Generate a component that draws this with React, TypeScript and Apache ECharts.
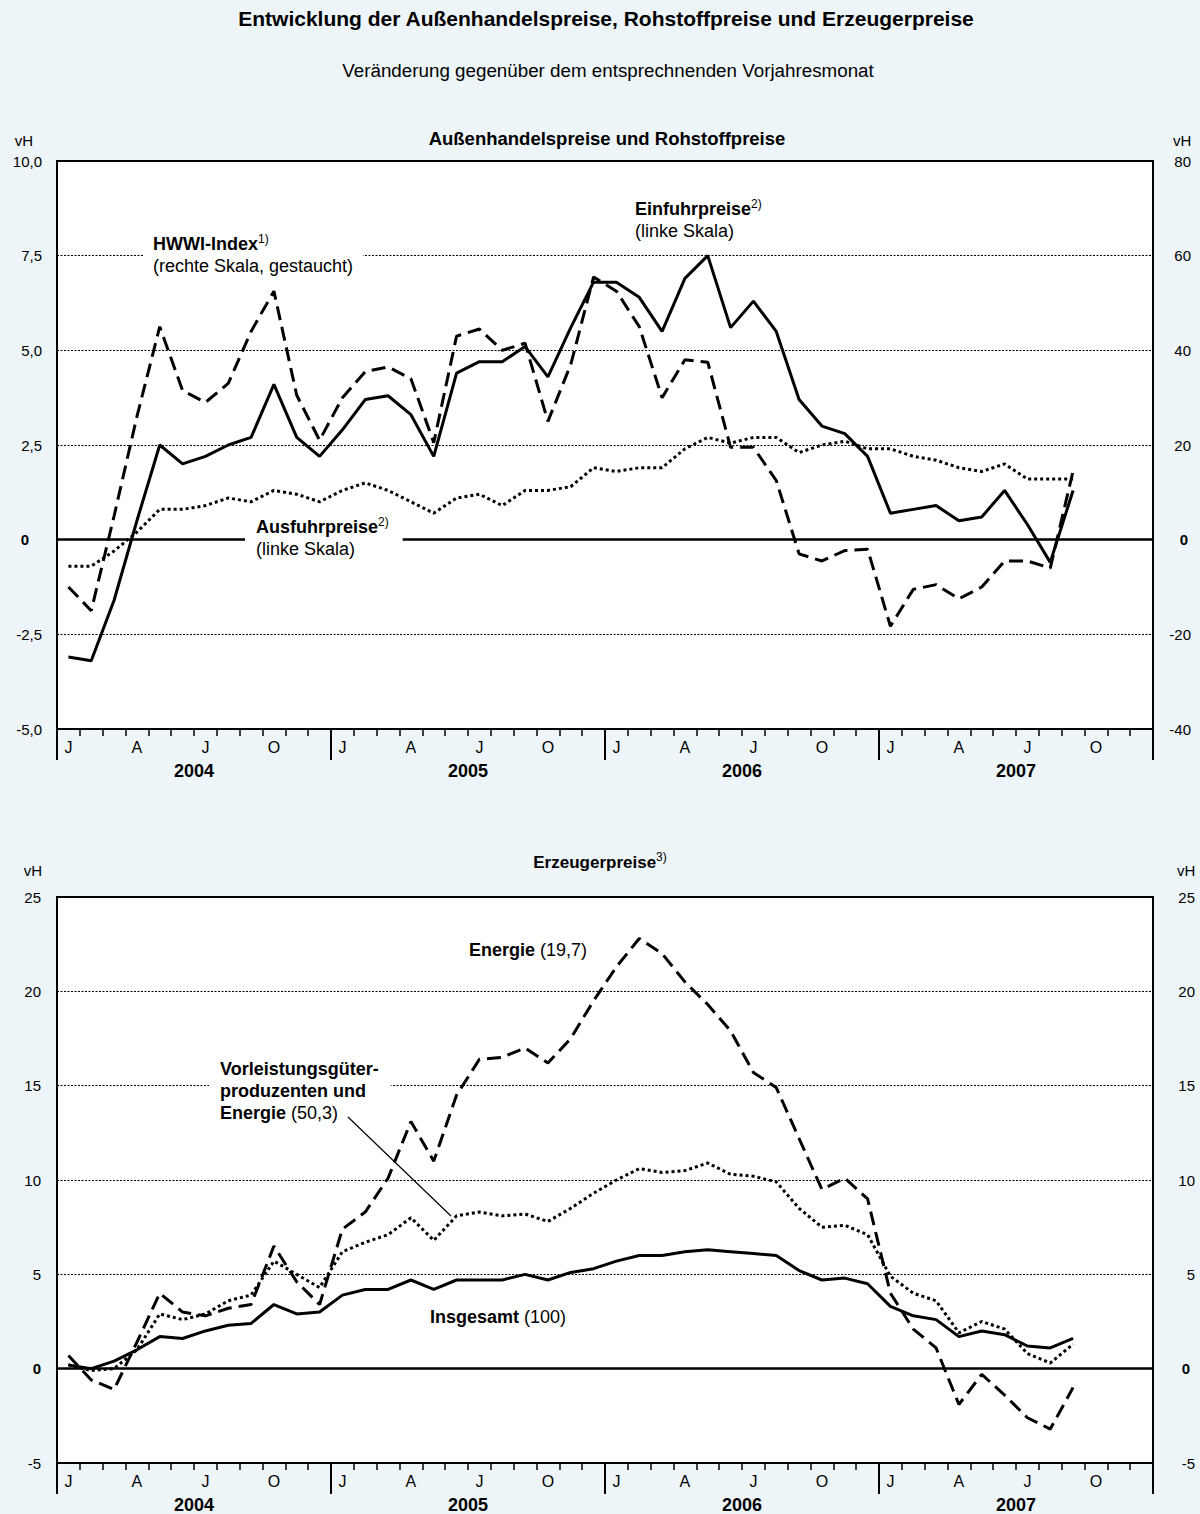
import React, { useEffect, useRef } from 'react';
import * as echarts from 'echarts';

// ---------- Data ----------
const years = ['2004', '2005', '2006', '2007'];
const monthInitials = ['J', 'F', 'M', 'A', 'M', 'J', 'J', 'A', 'S', 'O', 'N', 'D'];
const monthCategories = years.flatMap((y) => monthInitials.map((m, i) => `${m}|${y}-${i + 1}`));

// Top panel (Jan 2004 - Sep 2007), vH
const einfuhrpreise = [
  -3.1, -3.2, -1.6, 0.5, 2.5, 2.0, 2.2, 2.5, 2.7, 4.1, 2.7, 2.2,
  2.9, 3.7, 3.8, 3.3, 2.2, 4.4, 4.7, 4.7, 5.1, 4.3, 5.6, 6.8,
  6.8, 6.4, 5.5, 6.9, 7.5, 5.6, 6.3, 5.5, 3.7, 3.0, 2.8, 2.2,
  0.7, 0.8, 0.9, 0.5, 0.6, 1.3, 0.4, -0.6, 1.3,
];
const ausfuhrpreise = [
  -0.7, -0.7, -0.3, 0.2, 0.8, 0.8, 0.9, 1.1, 1.0, 1.3, 1.2, 1.0,
  1.3, 1.5, 1.3, 1.0, 0.7, 1.1, 1.2, 0.9, 1.3, 1.3, 1.4, 1.9,
  1.8, 1.9, 1.9, 2.4, 2.7, 2.55, 2.7, 2.7, 2.3, 2.5, 2.6, 2.4,
  2.4, 2.2, 2.1, 1.9, 1.8, 2.0, 1.6, 1.6, 1.6,
];
const hwwiIndex = [
  -10, -15, 5, 26, 45, 31.5, 29, 33, 44, 52.5, 30.5, 21,
  30, 35.5, 36.5, 34, 20.5, 43, 44.5, 40, 41.5, 25, 37, 55.5,
  52.5, 45, 30, 38, 37.5, 19.5, 19.5, 12.5, -3, -4.5, -2.3, -2,
  -18.3, -10.5, -9.5, -12.5, -10, -4.5, -4.5, -6, 14.5,
];

// Bottom panel, Erzeugerpreise, vH
const insgesamt = [
  0.2, 0.0, 0.4, 1.0, 1.7, 1.6, 2.0, 2.3, 2.4, 3.4, 2.9, 3.0,
  3.9, 4.2, 4.2, 4.7, 4.2, 4.7, 4.7, 4.7, 5.0, 4.7, 5.1, 5.3,
  5.7, 6.0, 6.0, 6.2, 6.3, 6.2, 6.1, 6.0, 5.2, 4.7, 4.8, 4.5,
  3.3, 2.8, 2.6, 1.7, 2.0, 1.8, 1.2, 1.1, 1.6,
];
const vorleistungEnergie = [
  0.2, -0.1, 0.0, 1.0, 2.9, 2.6, 2.9, 3.6, 3.9, 5.7, 5.0, 4.3,
  6.2, 6.7, 7.1, 8.0, 6.8, 8.1, 8.3, 8.1, 8.2, 7.8, 8.5, 9.3,
  10.0, 10.6, 10.4, 10.5, 10.9, 10.3, 10.2, 9.9, 8.5, 7.5, 7.6, 7.1,
  4.9, 4.0, 3.6, 1.9, 2.5, 2.1, 0.8, 0.3, 1.3,
];
const energie = [
  0.7, -0.6, -1.1, 1.4, 4.0, 3.0, 2.8, 3.2, 3.4, 6.5, 4.6, 3.4,
  7.4, 8.3, 10.1, 13.1, 11.0, 14.5, 16.4, 16.5, 17.0, 16.2, 17.5, 19.5,
  21.3, 22.8, 22.0, 20.5, 19.3, 17.9, 15.7, 14.9, 12.2, 9.5, 10.1, 9.0,
  4.0, 2.1, 1.1, -1.9, -0.3, -1.4, -2.6, -3.2, -1.0,
];

// Axis scales
const topLeftScale = { min: -5, max: 10, interval: 2.5 };
const topRightScale = { min: -40, max: 80, interval: 20 };
const bottomScale = { min: -5, max: 25, interval: 5 };

// ---------- Styling ----------
const FONT = '"Liberation Sans", Arial, Helvetica, sans-serif';
const BG = '#EDF5F9';
const dottedGrid = { show: true, lineStyle: { color: '#000', width: 1.2, type: [2, 1.5] as any } };
const DASH = [14, 7];
const DOT = [3, 3];

const monthAxis = (gridIndex: number) => ({
  type: 'category',
  gridIndex,
  data: monthCategories,
  boundaryGap: true,
  position: 'bottom',
  axisLine: { show: true, onZero: false, lineStyle: { color: '#000', width: 2 } },
  axisTick: { show: true, interval: 0, length: 7, lineStyle: { color: '#000', width: 1.5 } },
  axisLabel: {
    interval: (i: number) => i % 3 === 0,
    formatter: (v: string) => v.split('|')[0],
    margin: 10,
    fontSize: 16,
    color: '#000',
    fontFamily: FONT,
  },
  splitLine: { show: false },
});

const yearAxis = (gridIndex: number) => ({
  type: 'category',
  gridIndex,
  data: years,
  boundaryGap: true,
  position: 'bottom',
  axisLine: { show: false, onZero: false },
  axisTick: { show: true, interval: 0, length: 31, lineStyle: { color: '#000', width: 2 } },
  axisLabel: { margin: 33, fontSize: 18, fontWeight: 'bold', color: '#000', fontFamily: FONT },
  splitLine: { show: false },
});

const zeroRich = (padRight: number) => ({
  z: { fontSize: 15, fontWeight: 'bold', color: '#000', fontFamily: FONT, padding: [0, padRight, 0, 0] },
});

const zeroLine = {
  silent: true,
  symbol: ['none', 'none'],
  label: { show: false },
  lineStyle: { color: '#000', width: 2.5, type: 'solid' },
  data: [{ yAxis: 0 }],
};

const richBase = {
  b: { fontSize: 18, fontWeight: 'bold', fontFamily: FONT, fill: '#000', lineHeight: 22 },
  n: { fontSize: 18, fontWeight: 'normal', fontFamily: FONT, fill: '#000', lineHeight: 22 },
  s: { fontSize: 12, fontWeight: 'normal', fontFamily: FONT, fill: '#000', lineHeight: 22, verticalAlign: 'top' },
};

const textEl = (x: number, y: number, text: string, extra: any = {}) => ({
  type: 'text',
  x,
  y,
  z: 100,
  style: {
    text,
    fontFamily: FONT,
    fill: '#000',
    rich: richBase,
    ...extra,
  },
});

export default function App() {
  const ref = useRef<HTMLDivElement>(null);

  useEffect(() => {
    document.body.style.margin = '0';
    document.body.style.background = BG;
    if (!ref.current) return;
    const chart = echarts.init(ref.current, undefined, { renderer: 'svg' });

    const option: any = {
      animation: false,
      backgroundColor: BG,
      textStyle: { fontFamily: FONT, color: '#000' },
      grid: [
        { left: 57, top: 161, width: 1096, height: 568, show: true, backgroundColor: '#fff', borderColor: '#000', borderWidth: 2 },
        { left: 57, top: 897, width: 1096, height: 567, show: true, backgroundColor: '#fff', borderColor: '#000', borderWidth: 2 },
      ],
      xAxis: [monthAxis(0), yearAxis(0), monthAxis(1), yearAxis(1)],
      yAxis: [
        {
          type: 'value', gridIndex: 0, position: 'left', ...topLeftScale,
          axisLine: { show: false }, axisTick: { show: false },
          splitLine: dottedGrid,
          axisLabel: {
            margin: 15, fontSize: 15, color: '#000', fontFamily: FONT,
            formatter: (v: number) => (v === 0 ? '{z|0}' : v.toFixed(1).replace('.', ',')),
            rich: zeroRich(13),
          },
        },
        {
          type: 'value', gridIndex: 0, position: 'right', ...topRightScale,
          axisLine: { show: false }, axisTick: { show: false },
          splitLine: { show: false },
          axisLabel: {
            margin: 38, align: 'right', fontSize: 15, color: '#000', fontFamily: FONT,
            formatter: (v: number) => (v === 0 ? '{z|0}' : String(v)),
            rich: zeroRich(3),
          },
        },
        {
          type: 'value', gridIndex: 1, position: 'left', ...bottomScale,
          axisLine: { show: false }, axisTick: { show: false },
          splitLine: dottedGrid,
          axisLabel: {
            margin: 16, fontSize: 15, color: '#000', fontFamily: FONT,
            formatter: (v: number) => (v === 0 ? '{z|0}' : String(v)),
            rich: zeroRich(0),
          },
        },
        {
          type: 'value', gridIndex: 1, position: 'right', ...bottomScale,
          axisLine: { show: false }, axisTick: { show: false },
          splitLine: { show: false },
          axisLabel: {
            margin: 42, align: 'right', fontSize: 15, color: '#000', fontFamily: FONT,
            formatter: (v: number) => (v === 0 ? '{z|0}' : String(v)),
            rich: zeroRich(5),
          },
        },
      ],
      series: [
        {
          name: 'Einfuhrpreise', type: 'line', xAxisIndex: 0, yAxisIndex: 0, data: einfuhrpreise,
          symbol: 'none', lineStyle: { color: '#000', width: 3, type: 'solid' }, markLine: zeroLine, z: 4,
        },
        {
          name: 'Ausfuhrpreise', type: 'line', xAxisIndex: 0, yAxisIndex: 0, data: ausfuhrpreise,
          symbol: 'none', lineStyle: { color: '#000', width: 3, type: DOT, cap: 'butt' }, z: 3,
        },
        {
          name: 'HWWI-Index', type: 'line', xAxisIndex: 0, yAxisIndex: 1, data: hwwiIndex,
          symbol: 'none', lineStyle: { color: '#000', width: 3, type: DASH, cap: 'butt' }, z: 3,
        },
        {
          name: 'Insgesamt', type: 'line', xAxisIndex: 2, yAxisIndex: 2, data: insgesamt,
          symbol: 'none', lineStyle: { color: '#000', width: 3, type: 'solid' }, markLine: zeroLine, z: 4,
        },
        {
          name: 'Vorleistungsgüterproduzenten und Energie', type: 'line', xAxisIndex: 2, yAxisIndex: 2, data: vorleistungEnergie,
          symbol: 'none', lineStyle: { color: '#000', width: 3, type: DOT, cap: 'butt' }, z: 3,
        },
        {
          name: 'Energie', type: 'line', xAxisIndex: 2, yAxisIndex: 2, data: energie,
          symbol: 'none', lineStyle: { color: '#000', width: 3, type: DASH, cap: 'butt' }, z: 3,
        },
      ],
      graphic: [
        textEl(606, 18, 'Entwicklung der Außenhandelspreise, Rohstoffpreise und Erzeugerpreise', {
          align: 'center', verticalAlign: 'middle', fontSize: 21, fontWeight: 'bold',
        }),
        textEl(608, 70, 'Veränderung gegenüber dem entsprechnenden Vorjahresmonat', {
          align: 'center', verticalAlign: 'middle', fontSize: 18.8,
        }),
        textEl(607, 138, 'Außenhandelspreise und Rohstoffpreise', {
          align: 'center', verticalAlign: 'middle', fontSize: 18.5, fontWeight: 'bold',
        }),
        textEl(600, 862, '{t|Erzeugerpreise}{u|3)}', {
          align: 'center', verticalAlign: 'middle',
          rich: {
            t: { fontSize: 17, fontWeight: 'bold', fontFamily: FONT, fill: '#000', lineHeight: 22 },
            u: { fontSize: 12, fontFamily: FONT, fill: '#000', lineHeight: 22, verticalAlign: 'top' },
          },
        }),
        textEl(33, 140, 'vH', { align: 'right', verticalAlign: 'middle', fontSize: 15 }),
        textEl(1173, 140, 'vH', { align: 'left', verticalAlign: 'middle', fontSize: 15 }),
        textEl(42, 870, 'vH', { align: 'right', verticalAlign: 'middle', fontSize: 15 }),
        textEl(1177, 870, 'vH', { align: 'left', verticalAlign: 'middle', fontSize: 15 }),
        // Top panel annotations
        textEl(143, 229, '{b|HWWI-Index}{s|1)}\n{n|(rechte Skala, gestaucht)}', {
          align: 'left', verticalAlign: 'top', backgroundColor: '#fff', padding: [4, 10, 4, 10],
        }),
        textEl(635, 198, '{b|Einfuhrpreise}{s|2)}\n{n|(linke Skala)}', {
          align: 'left', verticalAlign: 'top',
        }),
        textEl(245, 511, '{b|Ausfuhrpreise}{s|2)}\n{n|(linke Skala)}', {
          align: 'left', verticalAlign: 'top', backgroundColor: '#fff', padding: [5, 14, 5, 11],
        }),
        // Bottom panel annotations
        textEl(469, 939, '{b|Energie}{n| (19,7)}', { align: 'left', verticalAlign: 'top' }),
        textEl(209, 1054, '{b|Vorleistungsgüter-}\n{b|produzenten und}\n{b|Energie}{n| (50,3)}', {
          align: 'left', verticalAlign: 'top', backgroundColor: '#fff', padding: [4, 12, 4, 11],
        }),
        textEl(430, 1306, '{b|Insgesamt}{n| (100)}', { align: 'left', verticalAlign: 'top' }),
        {
          type: 'line', z: 100,
          shape: { x1: 348, y1: 1117, x2: 451, y2: 1216 },
          style: { stroke: '#000', lineWidth: 1.2 },
        },
      ],
    };

    chart.setOption(option);
    return () => chart.dispose();
  }, []);

  return <div ref={ref} style={{ width: 1200, height: 1514, background: BG }} />;
}
